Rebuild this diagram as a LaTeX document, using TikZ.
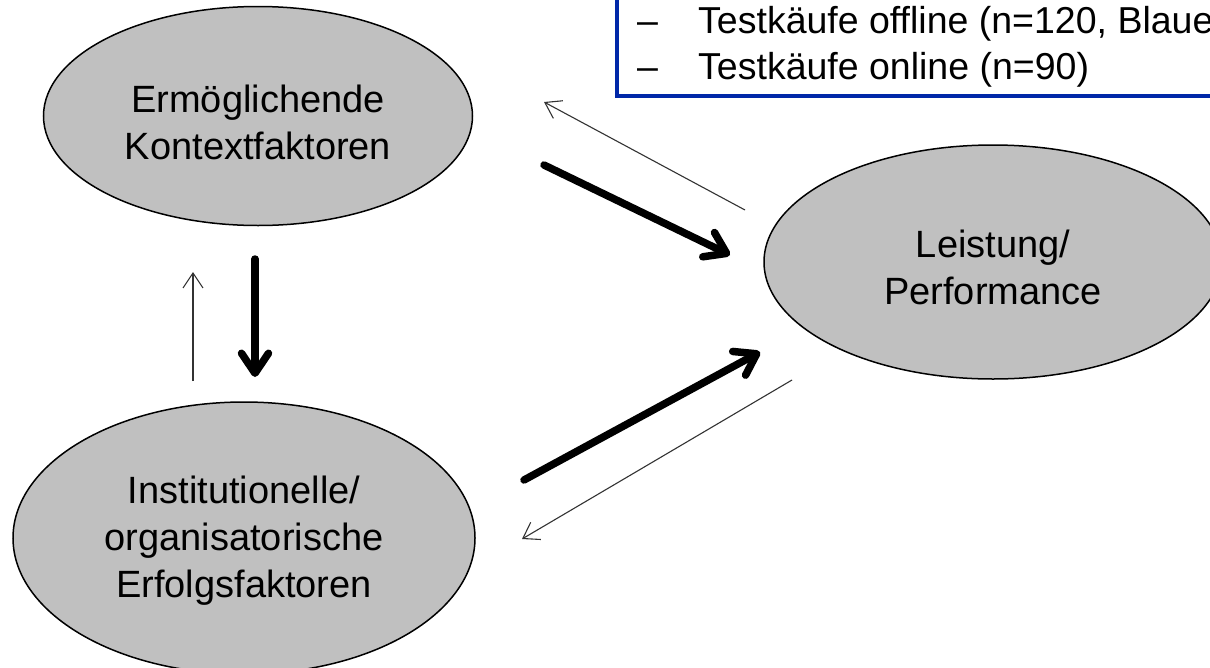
\documentclass[tikz,border=0pt]{standalone}
\usepackage{fontspec}
\setmainfont{Liberation Sans}
\usetikzlibrary{shapes.geometric,arrows.meta}
\definecolor{ellgray}{RGB}{192,192,192}
\definecolor{boxblue}{RGB}{0,40,168}
\tikzset{
  factor/.style={ellipse, draw=black, line width=1.5pt, fill=ellgray, inner sep=0pt},
  factortext/.style={align=center, inner sep=0pt, font=\fontsize{38}{47}\selectfont},
  thinarrow/.style={draw=black!80, line width=1.1pt, -{Straight Barb[length=15pt,width=20pt]}},
  thickarrow/.style={draw=black, line width=7.5pt, line cap=round, -{Straight Barb[length=20pt,width=27pt,line cap=round,line join=round]}},
  boxtext/.style={anchor=base west, inner sep=0pt, font=\fontsize{37.5}{45}\selectfont}
}
\begin{document}
\begin{tikzpicture}[x=1pt,y=-1pt]
\useasboundingbox (0,0) rectangle (1210,667);
\clip (0,0) rectangle (1210,667);
\fill[white] (0,0) rectangle (1210,667);
% blue box
\draw[boxblue, line width=4pt, fill=white] (617,-20) rectangle (1240,96);
\node[boxtext] (d1) at (637,33) {–};
\node[boxtext] (t1) at (698,33) {Testkäufe offline (n=120, Blaue};
\node[boxtext] (d2) at (637,79) {–};
\node[boxtext] (t2) at (698,79) {Testkäufe online (n=90)};
% ellipses
\node[factor, minimum width=429pt, minimum height=219pt] (ek) at (258,116) {};
\node[factortext] (ekt) at (258,122) {Ermöglichende\\Kontextfaktoren};
\node[factor, minimum width=462pt, minimum height=272pt] (io) at (244,538) {};
\node[factortext] (iot) at (244,541) {Institutionelle/\\organisatorische\\Erfolgsfaktoren};
\node[factor, minimum width=458pt, minimum height=234pt] (lp) at (993,262) {};
\node[factortext] (lpt) at (993,267) {Leistung/\\Performance};
% connector end points
\coordinate (a1s) at (745,210); \coordinate (a1e) at (544,102);
\coordinate (a2s) at (544,165); \coordinate (a2e) at (730,255);
\coordinate (a3s) at (255,259); \coordinate (a3e) at (255,377);
\coordinate (a4s) at (193,381); \coordinate (a4e) at (193,272);
\coordinate (a5s) at (524,480); \coordinate (a5e) at (760,352);
\coordinate (a6s) at (792,380); \coordinate (a6e) at (522,539);
\draw[thinarrow] (a1s) -- (a1e);
\draw[thickarrow] (a2s) -- (a2e);
\draw[thickarrow] (a3s) -- (a3e);
\draw[thinarrow] (a4s) -- (a4e);
\draw[thickarrow] (a5s) -- (a5e);
\draw[thinarrow] (a6s) -- (a6e);
\end{tikzpicture}
\end{document}
